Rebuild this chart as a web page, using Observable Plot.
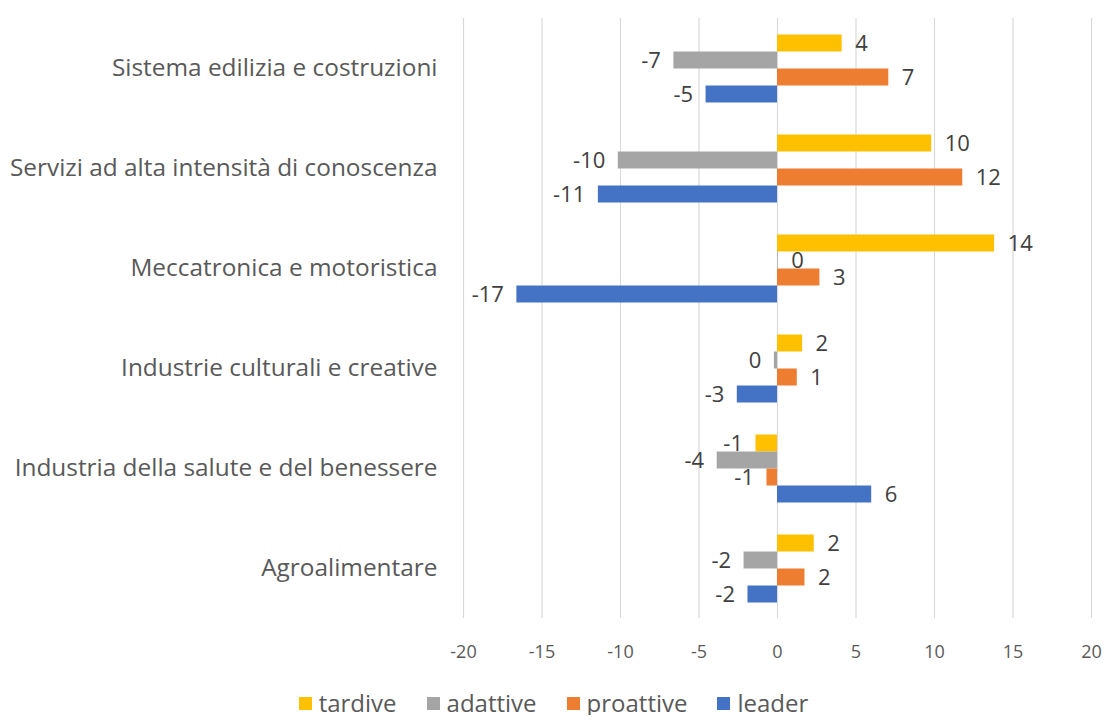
<!DOCTYPE html>
<html>
<head>
<meta charset="utf-8">
<script src="https://cdn.jsdelivr.net/npm/d3@7"></script>
<script src="https://cdn.jsdelivr.net/npm/@observablehq/plot@0.6"></script>
<style>
  body { margin: 0; background: #fff; font-family: "Open Sans", sans-serif; overflow: hidden; }
  #legend { display: flex; justify-content: center; gap: 30px; margin-top: 19px; font-size: 24px; color: #595959; line-height: 24px; }
  #legend .item { display: flex; align-items: center; gap: 7px; }
  #legend .sw { width: 13px; height: 13px; display: inline-block; }
</style>
</head>
<body>
<div id="chart"></div>
<div id="legend"></div>
<script>
const categories = [
  "Sistema edilizia e costruzioni",
  "Servizi ad alta intensità di conoscenza",
  "Meccatronica e motoristica",
  "Industrie culturali e creative",
  "Industria della salute e del benessere",
  "Agroalimentare"
];
const seriesNames = ["tardive", "adattive", "proattive", "leader"];
const seriesColors = ["#FFC000", "#A5A5A5", "#ED7D31", "#4472C4"];
const tardive   = [4.12, 9.82, 13.83, 1.6, -1.37, 2.34];
const adattive  = [-6.6, -10.14, 0.04, -0.2, -3.84, -2.13];
const proattive = [7.09, 11.8, 2.7, 1.26, -0.67, 1.75];
const leader    = [-4.55, -11.41, -16.6, -2.56, 6.0, -1.88];
const xTicks = [-20, -15, -10, -5, 0, 5, 10, 15, 20];

const seriesValues = {tardive, adattive, proattive, leader};
const data = [];
categories.forEach((c, i) => {
  seriesNames.forEach(s => data.push({category: c, series: s, value: seriesValues[s][i]}));
});
const fmt = v => String(Math.round(v)).replace("-0", "0");

const chart = Plot.plot({
  width: 1107,
  height: 672,
  marginTop: 15.5,
  marginBottom: 51,
  marginLeft: 463,
  marginRight: 16,
  style: {fontFamily: "Open Sans, sans-serif", background: "#fff"},
  x: {domain: [-20, 20], ticks: xTicks},
  y: {domain: seriesNames, paddingInner: 0, paddingOuter: 0.86, axis: null},
  fy: {domain: categories, padding: 0},
  color: {domain: seriesNames, range: seriesColors},
  marks: [
    Plot.ruleX(xTicks, {stroke: "#d9d9d9", strokeWidth: 1.2}),
    Plot.barX(data, {fy: "category", y: "series", x: "value", fill: "series"}),
    Plot.text(data.filter(d => d.value >= 0), {fy: "category", y: "series", x: "value", text: d => fmt(d.value), textAnchor: "start", dx: 13, fontSize: 22, fill: "#404040"}),
    Plot.text(data.filter(d => d.value < 0), {fy: "category", y: "series", x: "value", text: d => fmt(d.value), textAnchor: "end", dx: -13, fontSize: 22, fill: "#404040"}),
    Plot.axisFy({anchor: "left", tickSize: 0, tickPadding: 26, fontSize: 24.4, label: null, color: "#595959"}),
    Plot.axisX({ticks: xTicks, tickSize: 0, tickPadding: 27, fontSize: 18, label: null, color: "#595959", tickFormat: d => String(d)})
  ]
});
document.getElementById("chart").appendChild(chart);

const legend = document.getElementById("legend");
seriesNames.forEach((s, i) => {
  const item = document.createElement("div");
  item.className = "item";
  const sw = document.createElement("span");
  sw.className = "sw";
  sw.style.background = seriesColors[i];
  const t = document.createElement("span");
  t.textContent = s;
  item.appendChild(sw);
  item.appendChild(t);
  legend.appendChild(item);
});
</script>
</body>
</html>
